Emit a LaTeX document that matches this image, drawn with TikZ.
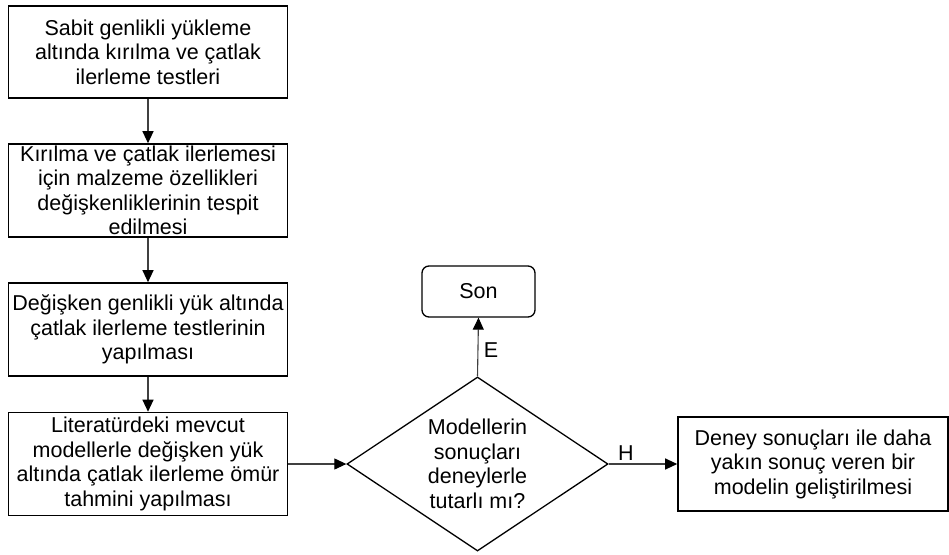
\documentclass[tikz,border=0pt]{standalone}
\usepackage{fontspec}
\setmainfont{Liberation Sans}
\usetikzlibrary{shapes.geometric,arrows.meta}

\begin{document}
\begin{tikzpicture}[x=1pt,y=-1pt,
        boxfont/.style={font=\fontsize{21.5}{24.5}\selectfont},
        stepbox/.style={draw, line width=1.6pt, boxfont, align=center, inner sep=0pt, minimum width=279pt},
        decision/.style={draw, diamond, line width=1.3pt, boxfont, align=center, inner sep=0pt, aspect=1.5, minimum width=261pt, minimum height=174pt},
        endbox/.style={draw, rounded corners=7pt, line width=1.3pt, boxfont, inner sep=0pt, minimum width=113pt, minimum height=51pt},
        link/.style={black!75, line width=1.1pt, -{Triangle[length=12pt,width=11pt,black]}}]
    \useasboundingbox (0,0) rectangle (949,554);

    % left column
    \node[stepbox, minimum height=92pt] (sabit) at (148,52) {Sabit genlikli yükleme\\altında kırılma ve çatlak\\ilerleme testleri};
    \node[stepbox, minimum height=93pt] (ozellik) at (148,190.5) {Kırılma ve çatlak ilerlemesi\\için malzeme özellikleri\\değişkenliklerinin tespit\\edilmesi};
    \node[stepbox, minimum height=93pt] (degisken) at (148,329.5) {Değişken genlikli yük altında\\çatlak ilerleme testlerinin\\yapılması};
    \node[stepbox, minimum height=103pt] (literatur) at (148,464) {Literatürdeki mevcut\\modellerle değişken yük\\altında çatlak ilerleme ömür\\tahmini yapılması};

    % decision and outcomes
    \node[decision] (karar) at (477.5,464) {Modellerin\\sonuçları\\deneylerle\\tutarlı mı?};
    \node[endbox] (son) at (478.5,291.5) {Son};
    \node[stepbox, minimum width=270pt, minimum height=94pt] (gelistir) at (813,464) {Deney sonuçları ile daha\\yakın sonuç veren bir\\modelin geliştirilmesi};

    \draw[link] (sabit) -- (ozellik);
    \draw[link] (ozellik) -- (degisken);
    \draw[link] (degisken) -- (literatur);
    \draw[link] (literatur.east) -- (karar.west);
    \draw[link] (karar.north) -- node[right, pos=0.44, xshift=2pt, boxfont, black] {E} (son.south);
    \draw[link] (karar.east) -- node[above, pos=0.25, boxfont, black] {H} (gelistir.west);
\end{tikzpicture}
\end{document}
